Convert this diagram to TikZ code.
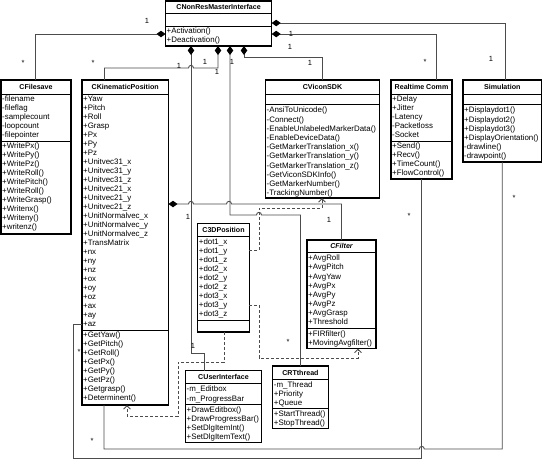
\documentclass[tikz,border=0pt]{standalone}
\usepackage{fontspec}
\setmainfont{Liberation Sans}
\usetikzlibrary{arrows.meta,calc}
\newcommand{\classrows}[5]{\foreach \t [count=\i from 0] in {#5} \node[row] (#1\i) at (#2, #3+\i*#4) {\t};}
\begin{document}
\begin{tikzpicture}[x=1pt,y=-1pt,
  box/.style={draw=black, line width=1.1pt, anchor=north west, inner sep=0pt, outer sep=0pt},
  sepline/.style={draw=black, line width=1pt},
  ttl/.style={font=\fontsize{7.1}{8}\selectfont\bfseries, inner sep=0pt},
  row/.style={font=\fontsize{7.9}{9}\selectfont, anchor=west, inner sep=0pt, text height=5.7pt, text depth=0pt},
  lbl/.style={font=\fontsize{7.5}{9}\selectfont, inner sep=0pt},
  comp/.style={draw=black!70, line width=0.9pt, {Diamond[length=9pt,width=6.5pt,color=black]}-},
  dep/.style={draw=black!70, line width=0.9pt, dash pattern=on 3pt off 2pt, -{Straight Barb[length=3.5pt,width=7pt]}},
  assoc/.style={draw=black!70, line width=0.9pt},
]
\useasboundingbox (0,0) rectangle (548,467);
\fill[white] (0,0) rectangle (548,467);

% ---------- CNonResMasterInterface
\node[box, minimum width=106.2pt, minimum height=45pt] (nr) at (165.5,1) {};
\draw[sepline] (165.5,13.3) -- (271.7,13.3) (165.5,26) -- (271.7,26);
\node[ttl] (nr-t) at (218.6,7.3) {CNonResMasterInterface};
\classrows{nr-m}{166.5}{30.3}{9.3}{+Activation(),+Deactivation()}

% ---------- CFilesave
\node[box, minimum width=70pt, minimum height=154pt] (fs) at (1,80) {};
\draw[sepline] (1,94) -- (71,94) (1,141) -- (71,141);
\node[ttl] (fs-t) at (36,87) {CFilesave};
\classrows{fs-a}{2}{99}{9}{-filename,-fileflag,-samplecount,-loopcount,-filepointer}
\classrows{fs-m}{2}{146}{9}{+WritePx(),+WritePy(),+WritePz(),+WriteRoll(),+WritePitch(),+WriteRoll(),+WriteGrasp(),+Writenx(),+Writeny(),+writenz()}

% ---------- CKinematicPosition
\node[box, minimum width=86.5pt, minimum height=325pt] (kin) at (82,80) {};
\draw[sepline] (82,94) -- (168.5,94) (82,330) -- (168.5,330);
\node[ttl] (kin-t) at (125.2,87) {CKinematicPosition};
\classrows{kin-a}{83}{99}{9}{+Yaw,+Pitch,+Roll,+Grasp,+Px,+Py,+Pz,+Unitvec31\_x,+Unitvec31\_y,+Unitvec31\_z,+Unitvec21\_x,+Unitvec21\_y,+Unitvec21\_z,+UnitNormalvec\_x,+UnitNormalvec\_y,+UnitNormalvec\_z,+TransMatrix,+nx,+ny,+nz,+ox,+oy,+oz,+ax,+ay,+az}
\classrows{kin-m}{83}{335}{9}{+GetYaw(),+GetPitch(),+GetRoll(),+GetPx(),+GetPy(),+GetPz(),+Getgrasp(),+Determinent()}

% ---------- CViconSDK
\node[box, minimum width=114pt, minimum height=118pt] (vs) at (265.5,80) {};
\draw[sepline] (265.5,94) -- (379.5,94) (265.5,104.3) -- (379.5,104.3);
\node[ttl] (vs-t) at (322.5,87) {CViconSDK};
\classrows{vs-m}{266.5}{110}{9.2}{-AnsiToUnicode(),-Connect(),-EnableUnlabeledMarkerData(),-EnableDeviceData(),-GetMarkerTranslation\_x(),-GetMarkerTranslation\_y(),-GetMarkerTranslation\_z(),-GetViconSDKInfo(),-GetMarkerNumber(),-TrackingNumber()}

% ---------- Realtime Comm
\node[box, minimum width=61pt, minimum height=99pt] (rt) at (391,80) {};
\draw[sepline] (391,94) -- (452,94) (391,141) -- (452,141);
\node[ttl] (rt-t) at (421.5,87) {Realtime Comm};
\classrows{rt-a}{392}{99}{9}{+Delay,+Jitter,-Latency,-Packetloss,-Socket}
\classrows{rt-m}{392}{146}{9}{+Send(),+Recv(),+TimeCount(),+FlowControl()}

% ---------- Simulation
\node[box, minimum width=78.5pt, minimum height=82pt] (sim) at (463,80) {};
\draw[sepline] (463,94) -- (541.5,94) (463,104.3) -- (541.5,104.3);
\node[ttl] (sim-t) at (502.3,87) {Simulation};
\classrows{sim-m}{464}{110}{9.2}{+Displaydot1(),+Displaydot2(),+Displaydot3(),+DisplayOrientation(),-drawline(),-drawpoint()}

% ---------- C3DPosition
\node[box, minimum width=51.6pt, minimum height=108.7pt] (c3) at (197.7,223.3) {};
\draw[sepline] (197.7,236.7) -- (249.3,236.7) (197.7,320) -- (249.3,320);
\node[ttl] (c3-t) at (223.5,230) {C3DPosition};
\classrows{c3-a}{198.7}{242}{9}{+dot1\_x,+dot1\_y,+dot1\_z,+dot2\_x,+dot2\_y,+dot2\_z,+dot3\_x,+dot3\_y,+dot3\_z}

% ---------- CFilter
\node[box, minimum width=69pt, minimum height=108.5pt] (cf) at (307,240) {};
\draw[sepline] (307,252.7) -- (376,252.7) (307,328.5) -- (376,328.5);
\node[ttl] (cf-t) at (341.5,246.3) {\itshape CFilter};
\classrows{cf-a}{308}{258}{9.1}{+AvgRoll,+AvgPitch,+AvgYaw,+AvgPx,+AvgPy,+AvgPz,+AvgGrasp,+Threshold}
\classrows{cf-m}{308}{333.6}{9.4}{+FIRfilter(),+MovingAvgfilter()}

% ---------- CUserInterface
\node[box, minimum width=76pt, minimum height=71.8pt] (ui) at (185.5,370.7) {};
\draw[sepline] (185.5,383) -- (261.5,383) (185.5,404.5) -- (261.5,404.5);
\node[ttl] (ui-t) at (223.5,376.8) {CUserInterface};
\classrows{ui-a}{186.5}{389}{9.5}{-m\_Editbox,-m\_ProgressBar}
\classrows{ui-m}{186.5}{409.3}{9}{+DrawEditbox(),+DrawProgressBar(),+SetDlgItemInt(),+SetDlgItemText()}

% ---------- CRTthread
\node[box, minimum width=55.5pt, minimum height=62.3pt] (rtt) at (272.7,366) {};
\draw[sepline] (272.7,379.3) -- (328.2,379.3) (272.7,408.3) -- (328.2,408.3);
\node[ttl] (rtt-t) at (300.4,372.6) {CRTthread};
\classrows{rtt-a}{273.7}{384.3}{9.2}{-m\_Thread,+Priority,+Queue}
\classrows{rtt-m}{273.7}{413.3}{9.2}{+StartThread(),+StopThread()}

% ---------- compositions
\draw[comp] (nr.west |- 0,34) -| (fs.north -| 35,0);
\draw[comp] (nr.east |- 0,23) -| (sim.north -| 505,0);
\draw[comp] (nr.east |- 0,34) -| (rt.north -| 436.5,0);
\draw[comp] (nr.south -| 244,0) -- (244,57) -| (vs.north);
\draw[comp] (nr.south -| 218,0) -- (218,68) -- (193.5,68) .. controls (193.5,64.5) and (188.5,64.5) .. (188.5,68) -- (104.5,68) -- (kin.north -| 104.5,0);
\draw[comp] (nr.south -| 230,0) -- (230,215) -- (256.5,215) .. controls (256.5,211.5) and (261.5,211.5) .. (261.5,215) -| (rtt.north);
\draw[comp] (nr.south -| 191,0) -- (191,353) -| (ui.north -| 204,0);
\draw[comp] (kin.east |- 0,204) -- (188.5,204) .. controls (188.5,200.5) and (193.5,200.5) .. (193.5,204) -- (226.5,204) .. controls (226.5,200.5) and (231.5,200.5) .. (231.5,204) -| (cf.north);

% ---------- associations
\draw[assoc] (rt.south) -- (rt.south |- 0,458) -- (73,458) -- (73,324) -- (kin.west |- 0,324);
\draw[assoc] (sim.south) -- (sim.south |- 0,449) -- (424.3,449) .. controls (424.3,445.5) and (419.3,445.5) .. (419.3,449) -- (104,449) -- (kin.south -| 104,0);

% ---------- dependencies
\draw[dep] (c3.east |- 0,250) -- (259,250) -- (259,208) -- (322,208) -- (vs.south -| 322,0);
\draw[dep] (c3.east |- 0,305) -- (259,305) -- (259,358) -- (358,358) -- (cf.south -| 358,0);
\draw[dep] (c3.south -| 224,0) -- (224,362) -- (178,362) -- (178,416) -- (127,416) -- (kin.south -| 127,0);

% ---------- multiplicities
\node[lbl] (l1) at (147,21) {1};
\node[lbl] (l2) at (23,63) {*};
\node[lbl] (l3) at (93,63) {*};
\node[lbl] (l4) at (179,66) {1};
\node[lbl] (l5) at (205,62) {1};
\node[lbl] (l6) at (217,72) {1};
\node[lbl] (l7) at (232,62) {1};
\node[lbl] (l8) at (290,47) {1};
\node[lbl] (l9) at (310,63) {1};
\node[lbl] (l10) at (291,34) {1};
\node[lbl] (l11) at (425,62) {*};
\node[lbl] (l12) at (491,59) {1};
\node[lbl] (l13) at (188,217) {1};
\node[lbl] (l14) at (329,220) {1};
\node[lbl] (l15) at (193,346) {1};
\node[lbl] (l16) at (288,342) {*};
\node[lbl] (l17) at (409,216) {*};
\node[lbl] (l18) at (514,198) {*};
\node[lbl] (l19) at (92,441) {*};
\node[lbl] (l20) at (79,352) {*};
\end{tikzpicture}
\end{document}
